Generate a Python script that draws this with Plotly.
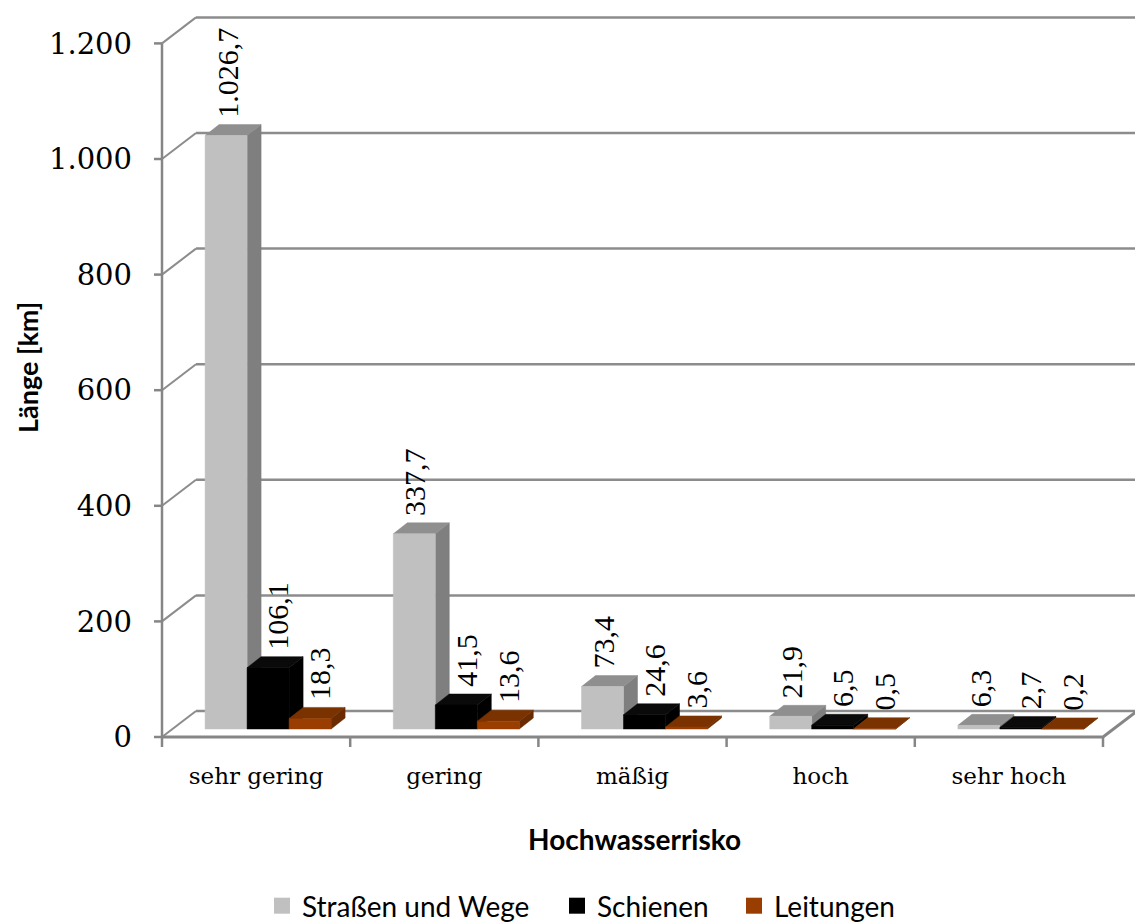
import plotly.graph_objects as go

# --- data -----------------------------------------------------------------
categories = ["sehr gering", "gering", "mäßig", "hoch", "sehr hoch"]
series_names = ["Straßen und Wege", "Schienen", "Leitungen"]
strassen = [1026.7, 337.7, 73.4, 21.9, 6.3]
schienen = [106.1, 41.5, 24.6, 6.5, 2.7]
leitungen = [18.3, 13.6, 3.6, 0.5, 0.2]
y_ticks = [0, 200, 400, 600, 800, 1000, 1200]
y_tick_text = ["0", "200", "400", "600", "800", "1.000", "1.200"]

# --- styling / 3-D projection parameters ------------------------------------
W, H = 1135, 923
PLOT_L, PLOT_R, PLOT_T, PLOT_B = 151, 1135, 5, 760
X0_PX, CAT_PX = 162, 188.2          # left front edge, pixels per category
Y0_PX, Y_PX = 737, 0.578            # zero line, pixels per km

def px_x(d):
    return d / CAT_PX

def px_y(d):
    return d / Y_PX

x_range = [-0.5 - px_x(X0_PX - PLOT_L), -0.5 + px_x(PLOT_R - X0_PX)]
y_range = [-px_y(PLOT_B - Y0_PX), px_y(Y0_PX - PLOT_T)]

WALL_DX, WALL_DY = px_x(34), px_y(26)   # depth of the back wall
BAR_DX, BAR_DY = px_x(14), px_y(11)     # depth of each bar
BAR_LIFT = px_y(8)                      # bars stand a little back on the floor
BAR_W = px_x(42)
GROUP_START = px_x(-51)                 # first bar's left edge relative to category centre
LABEL_SHIFT = [px_x(1), px_x(10), px_x(10)]

colors = [
    dict(front="#C0C0C0", side="#7f7f7f", top="#8f8f8f"),
    dict(front="#000000", side="#000000", top="#0a0a0a"),
    dict(front="#993d00", side="#6b2b00", top="#7a3300"),
]
GRID = "#8c8c8c"
AXIS = "#868686"

fig = go.Figure()

def line_trace(xs, ys, color, width):
    fig.add_trace(go.Scatter(x=xs, y=ys, mode="lines", line=dict(color=color, width=width),
                             hoverinfo="skip", showlegend=False))

# back wall gridlines and side wall diagonals
gx, gy, dx, dy = [], [], [], []
x_back_left = -0.5 + WALL_DX
x_back_right = 4.5 + WALL_DX
for v in y_ticks:
    gx += [x_back_left, x_back_right + 0.2, None]
    gy += [v + WALL_DY, v + WALL_DY, None]
    dx += [-0.5, x_back_left, None]
    dy += [v, v + WALL_DY, None]
line_trace(gx, gy, GRID, 2.5)
line_trace(dx, dy, GRID, 2)

# floor edges
line_trace([-0.5, 4.5, x_back_right], [0, 0, WALL_DY], AXIS, 3)
# front value axis with tick marks
tx, ty = [-0.5, -0.5, None], [0, y_ticks[-1], None]
for v in y_ticks:
    tx += [-0.5 - px_x(8), -0.5, None]
    ty += [v, v, None]
line_trace(tx, ty, AXIS, 2.5)
# category boundary ticks
cx, cy = [], []
for i in range(len(categories) + 1):
    cx += [i - 0.5, i - 0.5, None]
    cy += [0, -px_y(10), None]
line_trace(cx, cy, AXIS, 2.5)

# 3-D bars, drawn series by series so later bars cover earlier side faces
all_series = [strassen, schienen, leitungen]
annotations = []

def fmt(v):
    s = f"{v:,.1f}"
    return s.replace(",", "X").replace(".", ",").replace("X", ".")

for si, vals in enumerate(all_series):
    fx, fy, sx, sy, tpx, tpy = [], [], [], [], [], []
    for g, v in enumerate(vals):
        x0 = g + GROUP_START + si * BAR_W
        x1 = x0 + BAR_W
        y0 = BAR_LIFT
        y1 = BAR_LIFT + v
        fx += [x0, x1, x1, x0, x0, None]
        fy += [y0, y0, y1, y1, y0, None]
        sx += [x1, x1 + BAR_DX, x1 + BAR_DX, x1, x1, None]
        sy += [y0, y0 + BAR_DY, y1 + BAR_DY, y1, y0, None]
        tpx += [x0, x1, x1 + BAR_DX, x0 + BAR_DX, x0, None]
        tpy += [y1, y1, y1 + BAR_DY, y1 + BAR_DY, y1, None]
        annotations.append(dict(
            x=x0 + BAR_W / 2 + LABEL_SHIFT[si], y=y1 + BAR_DY, xref="x", yref="y",
            text=fmt(v), textangle=-90, showarrow=False, xanchor="center", yanchor="bottom",
            yshift=5, font=dict(family="Liberation Serif", size=30, color="#000000")))
    c = colors[si]
    for xs, ys, col in [(sx, sy, c["side"]), (tpx, tpy, c["top"]), (fx, fy, c["front"])]:
        fig.add_trace(go.Scatter(x=xs, y=ys, mode="lines", fill="toself", fillcolor=col,
                                 line=dict(color=col, width=0.5), hoverinfo="skip",
                                 showlegend=False))

def paper_x(px):
    return (px - PLOT_L) / (PLOT_R - PLOT_L)

def paper_y(py):
    return (PLOT_B - py) / (PLOT_B - PLOT_T)

# legend entries, one small legend per series
legend_left_px = [262, 557, 734]
legend_keys = ["legend", "legend2", "legend3"]
legend_layout = {}
for si, name in enumerate(series_names):
    fig.add_trace(go.Scatter(x=[None], y=[None], mode="markers", name=name,
                             legend=legend_keys[si],
                             marker=dict(symbol="square", size=16, color=colors[si]["front"])))
    legend_layout[legend_keys[si]] = dict(
        orientation="h", x=paper_x(legend_left_px[si]), y=paper_y(906), xanchor="left",
        yanchor="middle", font=dict(family="Lato", size=28, color="#000000"),
        bgcolor="rgba(0,0,0,0)", itemclick=False, itemdoubleclick=False)

annotations.append(dict(x=paper_x(27), y=paper_y(368), xref="paper", yref="paper",
                        text="<b>Länge [km]</b>", textangle=-90, showarrow=False,
                        xanchor="center", yanchor="middle",
                        font=dict(family="Lato", size=27, color="#000000")))
annotations.append(dict(x=paper_x(634), y=paper_y(839), xref="paper", yref="paper",
                        text="<b>Hochwasserrisko</b>", showarrow=False,
                        xanchor="center", yanchor="middle",
                        font=dict(family="Lato", size=28, color="#000000")))

fig.update_layout(
    width=W, height=H,
    margin=dict(l=PLOT_L, r=W - PLOT_R, t=PLOT_T, b=H - PLOT_B, pad=0, autoexpand=False),
    paper_bgcolor="white", plot_bgcolor="white",
    showlegend=True,
    annotations=annotations,
    xaxis=dict(range=x_range, showgrid=False, zeroline=False, showline=False,
               tickvals=list(range(len(categories))), ticktext=categories, ticks="",
               tickfont=dict(family="DejaVu Serif", size=23, color="#000000"),
               automargin=False, fixedrange=True),
    yaxis=dict(range=y_range, showgrid=False, zeroline=False, showline=False,
               tickvals=y_ticks, ticktext=y_tick_text, ticks="", ticklabelstandoff=18,
               tickfont=dict(family="DejaVu Serif", size=29, color="#000000"),
               automargin=False, fixedrange=True),
    **legend_layout,
)

fig.write_html("out.html")
